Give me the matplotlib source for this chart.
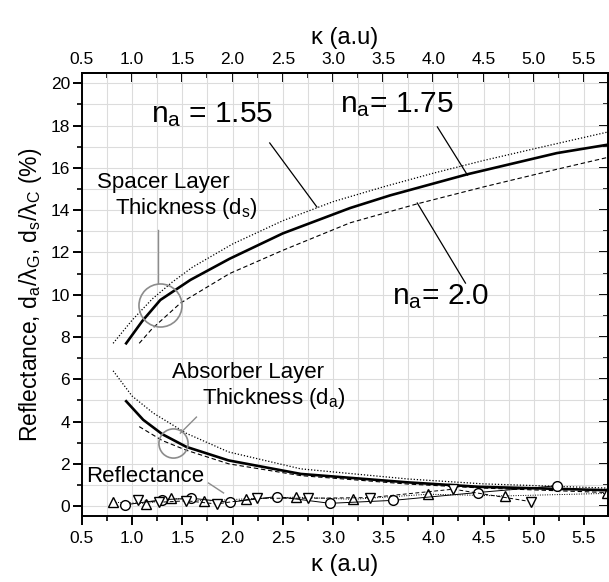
import matplotlib
matplotlib.use("Agg")
import matplotlib.pyplot as plt
from matplotlib.ticker import MultipleLocator

plt.rcParams['font.family'] = ['Liberation Sans', 'DejaVu Sans']
plt.rcParams['mathtext.fontset'] = 'custom'
plt.rcParams['mathtext.rm'] = 'Liberation Sans'
plt.rcParams['mathtext.it'] = 'Liberation Sans'

# Spacer layer thickness ds/lambda_c (%)
sp155_x = [0.81, 1.0, 1.2, 1.4, 1.6, 2.0, 2.5, 3.0, 3.5, 4.0, 4.5, 5.0, 5.74]
sp155_y = [7.7, 8.8, 9.8, 10.6, 11.3, 12.4, 13.5, 14.4, 15.1, 15.75, 16.35, 16.9, 17.7]
sp175_x = [0.94, 1.1, 1.28, 1.58, 1.97, 2.5, 3.17, 3.57, 4.34, 5.23, 5.74]
sp175_y = [7.7, 8.75, 9.75, 10.7, 11.7, 12.9, 14.1, 14.7, 15.7, 16.7, 17.1]
sp200_x = [1.07, 1.2, 1.48, 1.97, 2.5, 3.17, 3.84, 4.5, 5.2, 5.74]
sp200_y = [7.7, 8.4, 9.6, 11.0, 12.1, 13.4, 14.3, 15.1, 15.9, 16.5]

# Absorber layer thickness da/lambda_c (%)
ab155_x = [0.81, 1.0, 1.21, 1.54, 1.96, 2.68, 3.75, 4.5, 5.74]
ab155_y = [6.4, 5.2, 4.4, 3.44, 2.56, 1.76, 1.28, 1.05, 0.85]
ab175_x = [0.94, 1.11, 1.3, 1.54, 1.96, 2.68, 3.75, 4.46, 5.74]
ab175_y = [4.96, 4.08, 3.4, 2.8, 2.16, 1.52, 1.12, 0.91, 0.75]
ab200_x = [1.07, 1.3, 1.54, 1.96, 2.68, 3.75, 4.5, 5.74]
ab200_y = [3.76, 3.1, 2.64, 2.0, 1.44, 1.04, 0.85, 0.64]

# Reflectance (%)
rf155_x = [0.81, 1.14, 1.39, 1.72, 2.13, 2.63, 3.2, 3.95, 4.71, 5.73]
rf155_y = [0.18, 0.12, 0.37, 0.24, 0.34, 0.42, 0.32, 0.56, 0.48, 0.6]
rf175_x = [0.93, 1.3, 1.59, 1.97, 2.44, 2.97, 3.6, 4.44, 5.23]
rf175_y = [0.06, 0.3, 0.37, 0.18, 0.45, 0.13, 0.27, 0.64, 0.96]
rf200_x = [1.06, 1.27, 1.54, 1.84, 2.24, 2.75, 3.37, 4.2, 4.97]
rf200_y = [0.27, 0.18, 0.25, 0.1, 0.37, 0.37, 0.4, 0.8, 0.21]

fig = plt.figure(figsize=(6.09, 5.82), dpi=100)
ax = fig.add_axes([82/609, 1-516/582, (608-82)/609, (516-73)/582])

# curves
ax.plot(sp155_x, sp155_y, color='black', lw=0.9, ls=(0, (1, 1.5)))
ax.plot(sp175_x, sp175_y, color='black', lw=1.9)
ax.plot(sp200_x, sp200_y, color='black', lw=0.8, ls=(0, (4, 2.5)))
ax.plot(ab155_x, ab155_y, color='black', lw=0.9, ls=(0, (1, 1.5)))
ax.plot(ab175_x, ab175_y, color='black', lw=1.9)
ax.plot(ab200_x, ab200_y, color='black', lw=0.8, ls=(0, (4, 2.5)))

ax.plot(rf155_x, rf155_y, color='black', lw=0.7, ls=(0, (1, 1.5)),
        marker='^', ms=7.5, mfc='white', mec='black', mew=1.0)
ax.plot(rf175_x, rf175_y, color='black', lw=0.7, ls='-',
        marker='o', ms=7, mfc='white', mec='black', mew=1.0)
ax.plot(rf200_x, rf200_y, color='black', lw=0.7, ls=(0, (4, 2.5)),
        marker='v', ms=7.5, mfc='white', mec='black', mew=1.0)

# grey circles and leaders
ax.plot([1.28], [9.51], marker='o', ms=31, mfc='none', mec='#8c8c8c', mew=1.2)
ax.plot([1.41], [3.0], marker='o', ms=21, mfc='none', mec='#8c8c8c', mew=1.2)
ax.plot([1.26, 1.26], [13.06, 10.55], color='#8c8c8c', lw=1.0)
ax.plot([1.48, 1.64], [3.45, 4.21], color='#8c8c8c', lw=1.0)
ax.plot([1.76, 1.91], [1.09, 0.62], color='#8c8c8c', lw=1.0)

# black leaders for n labels
ax.plot([2.37, 2.84], [17.18, 14.15], color='black', lw=0.9)
ax.plot([4.04, 4.34], [17.94, 15.66], color='black', lw=0.9)
ax.plot([3.84, 4.32], [14.34, 10.55], color='black', lw=0.9)

# texts
big = 21.5
ax.text(1.80, 18.5, r'n$_\mathregular{a}$ = 1.55', fontsize=big, ha='center', va='center')
ax.text(3.64, 19.0, r'n$_\mathregular{a}$= 1.75', fontsize=big, ha='center', va='center')
ax.text(4.07, 9.9, r'n$_\mathregular{a}$= 2.0', fontsize=big, ha='center', va='center')
mid = 16
ax.text(1.31, 15.33, 'Spacer Layer', fontsize=mid, ha='center', va='center')
ax.text(1.54, 14.1, r'Thickness (d$_\mathregular{s}$)', fontsize=mid, ha='center', va='center')
ax.text(2.15, 6.3, 'Absorber Layer', fontsize=mid, ha='center', va='center')
ax.text(2.41, 5.1, r'Thickness (d$_\mathregular{a}$)', fontsize=mid, ha='center', va='center')
ax.text(1.13, 1.42, 'Reflectance', fontsize=mid, ha='center', va='center')

ax.set_xlim(0.5, 5.74)
ax.set_ylim(-0.47, 20.49)
ax.xaxis.set_major_locator(MultipleLocator(0.5))
ax.xaxis.set_minor_locator(MultipleLocator(0.25))
ax.yaxis.set_major_locator(MultipleLocator(2))
ax.yaxis.set_minor_locator(MultipleLocator(1))
ax.grid(which='both', color='#dcdcdc', lw=0.8)
ax.set_axisbelow(True)

for s in ax.spines.values():
    s.set_linewidth(1.4)

ax.tick_params(axis='both', which='major', labelsize=12.5, width=1.4, length=6.5)
ax.tick_params(axis='both', which='minor', width=1.2, length=3.5)
ax.tick_params(axis='x', which='both', direction='out', bottom=True, top=False, pad=4)
ax.tick_params(axis='y', which='both', direction='out', left=True, right=False, pad=2)
ax.xaxis.set_major_formatter(plt.FormatStrFormatter('%.1f'))

secx = ax.secondary_xaxis('top')
secx.xaxis.set_major_locator(MultipleLocator(0.5))
secx.xaxis.set_minor_locator(MultipleLocator(0.25))
secx.xaxis.set_major_formatter(plt.FormatStrFormatter('%.1f'))
secx.tick_params(which='major', direction='in', labelsize=12.5, width=1.4, length=6.5, pad=4)
secx.tick_params(which='minor', direction='in', width=1.2, length=3.5)
secx.spines['top'].set_linewidth(1.4)
secx.set_xlabel(u'\u03ba (a.u)', fontsize=17, labelpad=6)

secy = ax.secondary_yaxis('right')
secy.yaxis.set_major_locator(MultipleLocator(2))
secy.yaxis.set_minor_locator(MultipleLocator(1))
secy.tick_params(which='major', direction='in', labelright=False, width=1.4, length=6.5)
secy.tick_params(which='minor', direction='in', width=1.2, length=3.5)
secy.spines['right'].set_linewidth(1.4)

ax.set_xlabel(u'\u03ba (a.u)', fontsize=17, labelpad=6)
ax.set_ylabel(r'Reflectance, d$_\mathregular{a}$/$\mathregular{\lambda}_\mathregular{G}$, d$_\mathregular{s}$/$\mathregular{\lambda}_\mathregular{C}$ (%)',
              fontsize=16.5, labelpad=5)

fig.savefig('out.png', dpi=100)
